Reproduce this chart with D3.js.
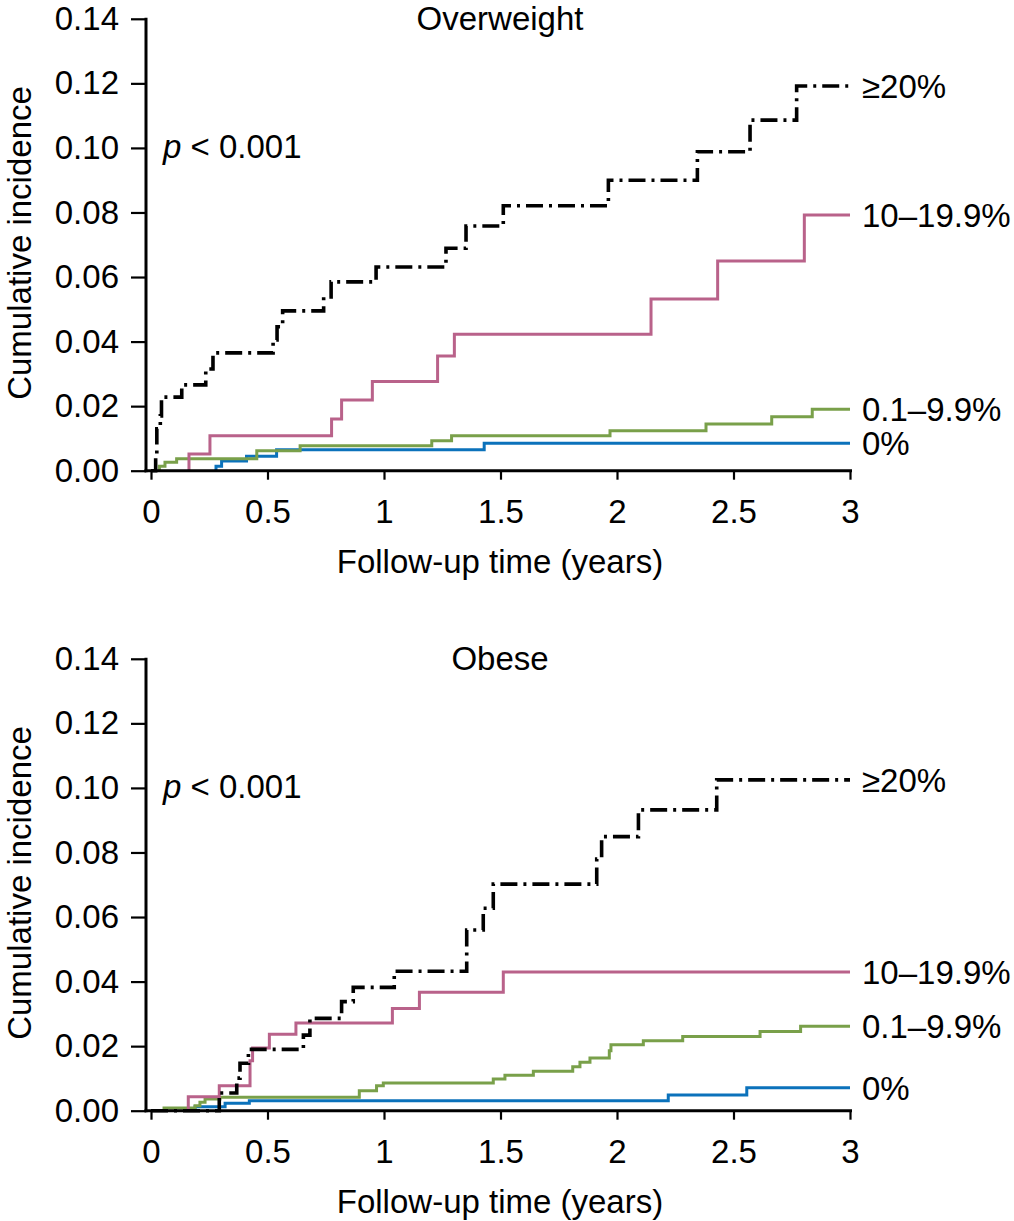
<!DOCTYPE html>
<html><head><meta charset="utf-8">
<script src="https://cdn.jsdelivr.net/npm/d3@7/dist/d3.min.js"></script>
<style>
body{margin:0;background:#fff}
svg{display:block}
text{font-family:"Liberation Sans",Arial,Helvetica,sans-serif;fill:#000}
</style>
</head><body>
<svg id="c" width="1014" height="1221"></svg>
<script>
// ---------- data ----------
const xTicks = [0, 0.5, 1, 1.5, 2, 2.5, 3];
const xTickLabels = ["0", "0.5", "1", "1.5", "2", "2.5", "3"];
const yTicks = [0, 0.02, 0.04, 0.06, 0.08, 0.10, 0.12, 0.14];
const yTickLabels = ["0.00", "0.02", "0.04", "0.06", "0.08", "0.10", "0.12", "0.14"];
const groups = ["≥20%", "10–19.9%", "0.1–9.9%", "0%"];
const panelTitles = ["Overweight", "Obese"];
const pText = "< 0.001";
const xTitle = "Follow-up time (years)";
const yTitle = "Cumulative incidence";

// Overweight panel
const ow20_t = [0, 0.02, 0.025, 0.04, 0.045, 0.132, 0.235, 0.266, 0.524, 0.541, 0.565, 0.741, 0.773, 0.966, 1.266, 1.352, 1.512, 1.963, 2.345, 2.571, 2.771, 3];
const ow20_v = [0, 0.004, 0.013, 0.017, 0.0228, 0.0266, 0.0315, 0.0365, 0.0405, 0.0446, 0.0495, 0.0538, 0.0585, 0.0631, 0.0689, 0.0758, 0.0821, 0.090, 0.0988, 0.1086, 0.1192, 0.1192];
const ow10_t = [0.163, 0.163, 0.253, 0.775, 0.818, 0.95, 1.23, 1.302, 2.146, 2.432, 2.804, 3];
const ow10_v = [0, 0.0052, 0.0108, 0.016, 0.0219, 0.0276, 0.0355, 0.0423, 0.0532, 0.065, 0.0792, 0.0792];
const ow01_t = [0.036, 0.036, 0.06, 0.11, 0.454, 0.64, 1.205, 1.29, 1.97, 2.382, 2.664, 2.838, 3];
const ow01_v = [0, 0.0014, 0.0026, 0.0037, 0.0062, 0.0077, 0.0093, 0.0108, 0.0124, 0.0145, 0.0167, 0.019, 0.019];
const ow0_t = [0.279, 0.279, 0.303, 0.41, 0.539, 1.43, 3];
const ow0_v = [0, 0.0014, 0.003, 0.0045, 0.0065, 0.0085, 0.0085];

// Obese panel
const ob20_t = [0, 0.293, 0.368, 0.382, 0.418, 0.654, 0.682, 0.818, 0.868, 1.044, 1.355, 1.426, 1.469, 1.913, 1.934, 2.092, 2.428, 3];
const ob20_v = [0, 0.0055, 0.0101, 0.0147, 0.019, 0.0234, 0.0286, 0.0338, 0.0382, 0.0432, 0.056, 0.0627, 0.0702, 0.078, 0.0849, 0.0932, 0.1025, 0.1025];
const ob10_t = [0.16, 0.16, 0.293, 0.425, 0.436, 0.508, 0.622, 1.036, 1.152, 1.512, 3];
const ob10_v = [0, 0.0043, 0.0077, 0.0155, 0.0194, 0.0237, 0.0272, 0.0317, 0.0367, 0.043, 0.043];
const ob01_t = [0.056, 0.056, 0.189, 0.21, 0.232, 0.296, 0.894, 0.968, 0.997, 1.469, 1.519, 1.641, 1.81, 1.841, 1.884, 1.967, 1.974, 2.113, 2.282, 2.614, 2.788, 3];
const ob01_v = [0, 0.0008, 0.0015, 0.0026, 0.0036, 0.0042, 0.0062, 0.0077, 0.0086, 0.0098, 0.011, 0.0122, 0.0136, 0.015, 0.0163, 0.0186, 0.0204, 0.0217, 0.023, 0.0245, 0.0262, 0.0262];
const ob0_t = [0.189, 0.189, 0.318, 0.422, 2.22, 2.557, 3];
const ob0_v = [0, 0.0012, 0.0023, 0.0031, 0.0049, 0.0071, 0.0071];

const panels = [
  {title: panelTitles[0], series: [[ow20_t, ow20_v], [ow10_t, ow10_v], [ow01_t, ow01_v], [ow0_t, ow0_v]]},
  {title: panelTitles[1], series: [[ob20_t, ob20_v], [ob10_t, ob10_v], [ob01_t, ob01_v], [ob0_t, ob0_v]]}
];

// ---------- styles ----------
const colors = ["#000000", "#b9628a", "#79a04a", "#0b72bb"];
const widths = [3.6, 3, 3, 3];
const dashes = ["17,6,3,6", null, null, null];
const FS = 33;

const svg = d3.select("#c");
const axisX = 146;

panels.forEach((p, i) => {
  const off = i * 640;
  const g = svg.append("g").attr("transform", `translate(0,${off})`);
  const x = d3.scaleLinear().domain([0, 3]).range([151, 850]);
  const y = d3.scaleLinear().domain([0, 0.14]).range([470.7, 18.8]);

  const line = d3.line().x(d => x(d[0])).y(d => y(d[1])).curve(d3.curveStepAfter);
  [3, 2, 1, 0].forEach(k => {
    const [ts, vs] = p.series[k];
    const pts = ts.map((t, j) => [t, vs[j]]);
    g.append("path").datum(pts)
      .attr("d", line)
      .attr("fill", "none")
      .attr("stroke", colors[k])
      .attr("stroke-width", widths[k])
      .attr("stroke-dasharray", dashes[k])
      .attr("stroke-linejoin", "miter")
      .attr("stroke-linecap", "butt");
  });

  // y axis
  const ya = d3.axisLeft(y).tickValues(yTicks).tickFormat((d, j) => yTickLabels[j]).tickSize(15).tickPadding(12);
  const yg = g.append("g").attr("transform", `translate(${axisX},0)`).call(ya);
  yg.select(".domain").remove();
  yg.selectAll(".tick line").attr("stroke", "#000").attr("stroke-width", 2.2);
  yg.selectAll(".tick text").attr("font-size", FS).attr("font-family", '"Liberation Sans",Arial,sans-serif').attr("fill", "#000");
  g.append("line").attr("x1", axisX).attr("x2", axisX).attr("y1", y(0.14) - 1).attr("y2", y(0) + 1.5)
    .attr("stroke", "#000").attr("stroke-width", 3);

  // x axis
  const xa = d3.axisBottom(x).tickValues(xTicks).tickFormat((d, j) => xTickLabels[j]).tickSize(9).tickPadding(20);
  const xg = g.append("g").attr("transform", `translate(0,${y(0)})`).call(xa);
  xg.select(".domain").remove();
  xg.selectAll(".tick line").attr("stroke", "#000").attr("stroke-width", 2.2);
  xg.selectAll(".tick text").attr("font-size", FS).attr("font-family", '"Liberation Sans",Arial,sans-serif').attr("fill", "#000");
  g.append("line").attr("x1", axisX - 1.5).attr("x2", 852).attr("y1", y(0)).attr("y2", y(0))
    .attr("stroke", "#000").attr("stroke-width", 3);

  // titles
  g.append("text").attr("x", 500).attr("y", 30).attr("text-anchor", "middle").attr("font-size", FS).text(p.title);
  g.append("text").attr("x", 500).attr("y", 573).attr("text-anchor", "middle").attr("font-size", FS).text(xTitle);
  g.append("text").attr("transform", `translate(31,${243}) rotate(-90)`).attr("text-anchor", "middle").attr("font-size", FS).text(yTitle);

  // p value
  const pt = g.append("text").attr("x", 163).attr("y", 158).attr("font-size", FS);
  pt.append("tspan").attr("font-style", "italic").text("p");
  pt.append("tspan").text(" " + pText);

  // end labels
  p.series.forEach((s, k) => {
    const v = s[1][s[1].length - 1];
    g.append("text").attr("x", 862).attr("y", y(v)).attr("dy", "0.36em").attr("font-size", FS).text(groups[k]);
  });
});
</script>
</body></html>
